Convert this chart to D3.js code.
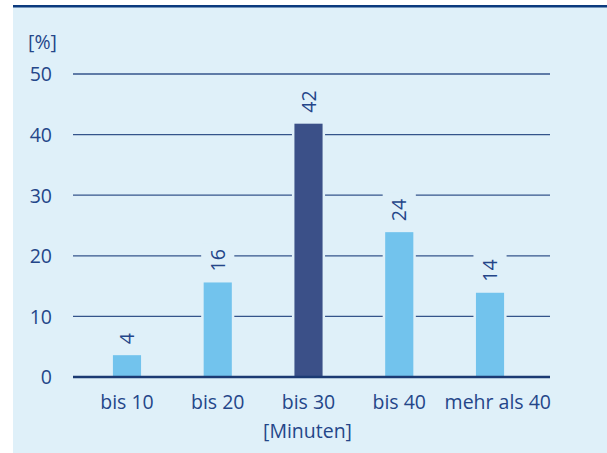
<!DOCTYPE html>
<html><head><meta charset="utf-8">
<script src="https://cdn.jsdelivr.net/npm/d3@7"></script>
<style>body{margin:0;background:#fff}svg{display:block}text{font-family:"Open Sans",sans-serif;font-weight:400;fill:#244689}</style>
</head><body><svg id="c" width="607" height="453"></svg>
<script>
const categories = ["bis 10", "bis 20", "bis 30", "bis 40", "mehr als 40"];
const values = [3.6, 15.6, 41.8, 23.9, 13.9];
const valueLabels = ["4", "16", "42", "24", "14"];
const highlight = [false, false, true, false, false];
const yTicks = [0, 10, 20, 30, 40, 50];
const yUnit = "[%]";
const xTitle = "[Minuten]";

const FS = 19.5;
const svg = d3.select("#c");
const bg = "#dff0f9";
svg.append("rect").attr("x", 13).attr("y", 6).attr("width", 594).attr("height", 447).attr("fill", bg);
svg.append("line").attr("x1", 13).attr("x2", 607).attr("y1", 6.2).attr("y2", 6.2).attr("stroke", "#0c3a7e").attr("stroke-width", 2.5);

const gx0 = 73, gx1 = 550;
const y = d3.scaleLinear().domain([0, 50]).range([377, 74]);
const x = d3.scaleBand().domain(categories).range([81.6, 535.4]).paddingInner(0.69).paddingOuter(0.345);

// y axis ticks and grid
const yAxis = d3.axisLeft(y).tickValues(yTicks).tickSize(0).tickPadding(0);
const ga = svg.append("g").attr("transform", "translate(52,0)").call(yAxis);
ga.select(".domain").remove();
ga.attr("font-family", null).attr("font-size", null);
ga.selectAll("text").attr("font-size", FS).attr("fill", null).attr("x", 0).attr("dy", "0.35em");

svg.append("g").selectAll("line").data(yTicks.filter(t => t > 0)).join("line")
  .attr("x1", gx0).attr("x2", gx1).attr("y1", d => y(d)).attr("y2", d => y(d))
  .attr("stroke", "#34548b").attr("stroke-width", 1.3);

// value labels (measure first)
const labG = svg.append("g");
const labs = labG.selectAll("text").data(values).join("text")
  .attr("transform", (d, i) => `translate(${x(categories[i]) + x.bandwidth() / 2},${y(d) - 11}) rotate(-90)`)
  .attr("dy", "0.36em").attr("font-size", FS).text((d, i) => valueLabels[i]);
const lens = [];
labs.each(function () { lens.push(this.getComputedTextLength()); });

// knockouts
svg.insert("g", () => labG.node()).selectAll("rect").data(values).join("rect")
  .attr("x", (d, i) => x(categories[i]) - 2.5).attr("width", x.bandwidth() + 5)
  .attr("y", (d, i) => y(d) - 11 - lens[i] - 6).attr("height", (d, i) => y(0) - (y(d) - 11 - lens[i] - 6))
  .attr("fill", bg);

// bars
svg.append("g").selectAll("rect").data(values).join("rect")
  .attr("x", (d, i) => x(categories[i])).attr("width", x.bandwidth())
  .attr("y", d => y(d)).attr("height", d => y(0) - y(d))
  .attr("fill", (d, i) => highlight[i] ? "#3b5088" : "#72c3ed");

// baseline
svg.append("line").attr("x1", gx0).attr("x2", gx1).attr("y1", y(0)).attr("y2", y(0)).attr("stroke", "#1b3a73").attr("stroke-width", 2.5);

// x axis labels
const xAxis = d3.axisBottom(x).tickSize(0).tickPadding(0);
const gx = svg.append("g").call(xAxis);
gx.select(".domain").remove();
gx.attr("font-family", null).attr("font-size", null);
gx.selectAll("text").attr("font-size", FS).attr("fill", null).attr("y", 409).attr("dy", 0);
gx.selectAll(".tick").filter((d, i) => i === categories.length - 1).each(function () {
  const tx = x(categories[categories.length - 1]) + x.bandwidth() / 2;
  d3.select(this).select("text").attr("text-anchor", "end").attr("x", gx1 + 1 - tx);
});

svg.append("text").attr("x", (gx0 + gx1) / 2 - 4).attr("y", 438).attr("text-anchor", "middle").attr("font-size", FS).text(xTitle);
svg.append("text").attr("x", 28).attr("y", 49).attr("font-size", FS).text(yUnit);
</script></body></html>
